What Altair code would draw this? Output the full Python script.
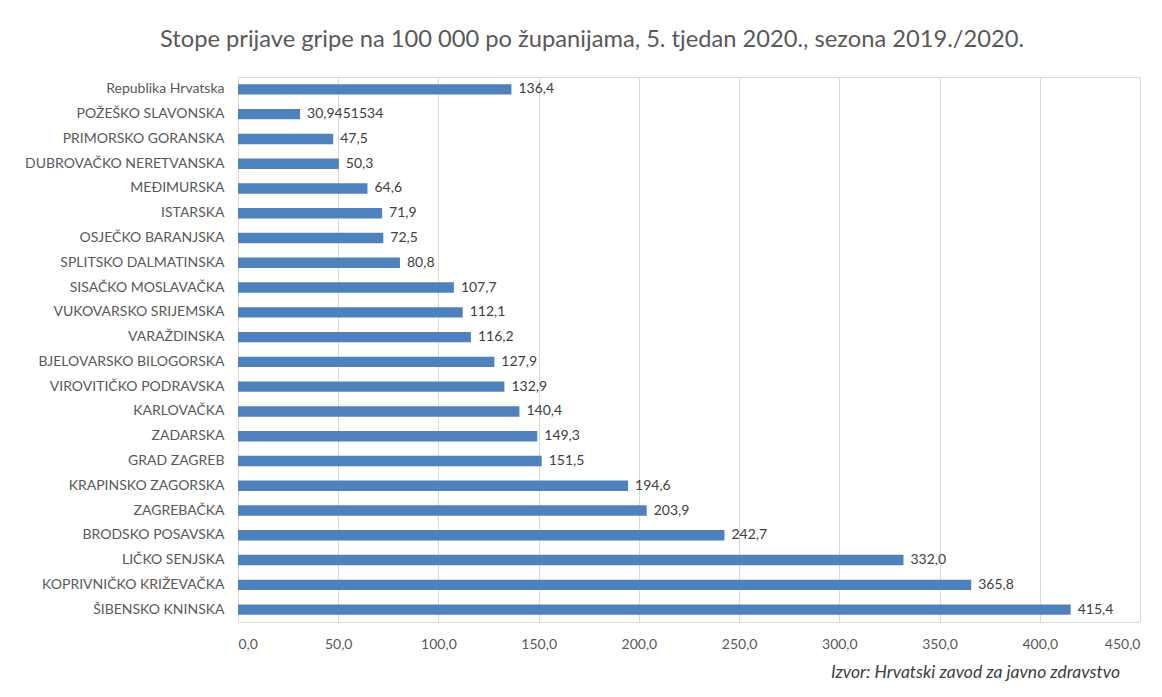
import altair as alt
import pandas as pd

categories = [
    "Republika Hrvatska", "POŽEŠKO SLAVONSKA", "PRIMORSKO GORANSKA", "DUBROVAČKO NERETVANSKA",
    "MEĐIMURSKA", "ISTARSKA", "OSJEČKO BARANJSKA", "SPLITSKO DALMATINSKA",
    "SISAČKO MOSLAVAČKA", "VUKOVARSKO SRIJEMSKA", "VARAŽDINSKA", "BJELOVARSKO BILOGORSKA",
    "VIROVITIČKO PODRAVSKA", "KARLOVAČKA", "ZADARSKA", "GRAD ZAGREB",
    "KRAPINSKO ZAGORSKA", "ZAGREBAČKA", "BRODSKO POSAVSKA", "LIČKO SENJSKA",
    "KOPRIVNIČKO KRIŽEVAČKA", "ŠIBENSKO KNINSKA",
]
values = [136.4, 30.9451534, 47.5, 50.3, 64.6, 71.9, 72.5, 80.8, 107.7, 112.1, 116.2, 127.9,
          132.9, 140.4, 149.3, 151.5, 194.6, 203.9, 242.7, 332.0, 365.8, 415.4]
labels = ["136,4", "30,9451534", "47,5", "50,3", "64,6", "71,9", "72,5", "80,8", "107,7", "112,1",
          "116,2", "127,9", "132,9", "140,4", "149,3", "151,5", "194,6", "203,9", "242,7", "332,0",
          "365,8", "415,4"]
x_ticks = [0, 50, 100, 150, 200, 250, 300, 350, 400, 450]
title_text = "Stope prijave gripe na 100 000 po županijama, 5. tjedan 2020., sezona 2019./2020."
source_text = "Izvor: Hrvatski zavod za javno zdravstvo"

df = pd.DataFrame({"county": categories, "value": values, "label": labels})

FONT = "Lato"
W, H = 902, 545

x_enc = alt.X("value:Q", scale=alt.Scale(domain=[0, 450], nice=False),
              axis=alt.Axis(values=x_ticks, title=None, grid=True, gridColor="#d9d9d9",
                            domain=False, ticks=False, labelPadding=15,
                            labelExpr="replace(format(datum.value, '.1f'), '.', ',')",
                            labelFont=FONT, labelFontSize=14, labelColor="#595959"))
y_enc = alt.Y("county:N", sort=categories,
              scale=alt.Scale(paddingInner=0.58, paddingOuter=0.29),
              axis=alt.Axis(title=None, domain=False, ticks=False, labelPadding=14,
                            labelFont=FONT, labelFontSize=14, labelColor="#595959",
                            minExtent=230, maxExtent=230, labelLimit=300))

base = alt.Chart(df)
bars = base.mark_bar(color="#4f81bd").encode(x=x_enc, y=y_enc)
text = base.mark_text(align="left", baseline="middle", dx=7, font=FONT, fontSize=14,
                      color="#404040").encode(x="value:Q", y=alt.Y("county:N", sort=categories),
                                               text="label:N")
src = alt.Chart(pd.DataFrame({"t": [source_text]})).mark_text(
    align="right", baseline="middle", font=FONT, fontSize=17.5, fontStyle="italic",
    color="#404040").encode(x=alt.value(882), y=alt.value(596), text="t:N")

chart = alt.layer(bars, text, src).properties(
    width=W, height=H,
    title=alt.TitleParams(title_text, font=FONT, fontSize=23.7, fontWeight="normal",
                          color="#595959", anchor="middle", frame="bounds", offset=25, dx=18),
    padding={"left": 0, "top": 20, "right": 5, "bottom": 5},
).configure_view(stroke=None).configure(background="white")

chart.save("out.html", embed_options={"renderer": "svg", "actions": False})
